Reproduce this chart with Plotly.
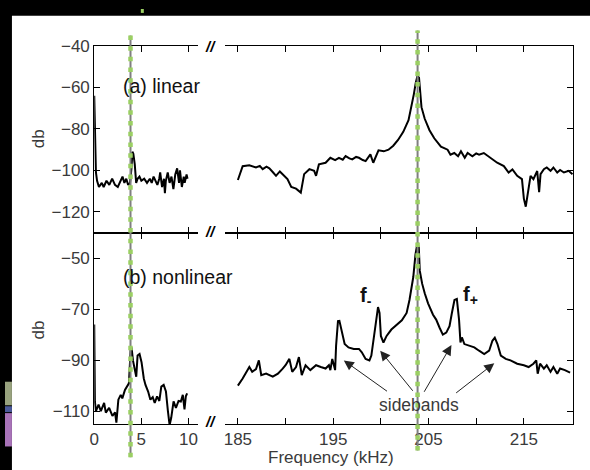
import plotly.graph_objects as go

# ---------------- data ----------------
lin_low_f = [0, 0.05, 0.1, 0.18, 0.3, 0.5, 0.8, 1.0, 1.3, 1.6, 1.9, 2.2, 2.5, 2.7, 3.0,
             3.2, 3.4, 3.6, 3.8, 3.95, 4.05, 4.15, 4.3, 4.45, 4.6, 4.8, 5.0, 5.3, 5.6, 5.9,
             6.1, 6.3, 6.5, 6.7, 6.9, 7.0, 7.2, 7.4, 7.5, 7.6, 7.8, 8.0, 8.2, 8.4, 8.6,
             8.8, 9.0, 9.1, 9.3, 9.5, 9.6, 9.8, 9.9]
lin_low_db = [-64, -80, -92, -101, -105, -108, -106, -108, -105, -107, -104, -107, -108, -106, -103,
              -106, -104, -107, -106, -99, -91, -92, -97, -106, -104, -103, -105, -104, -106, -104,
              -106, -103, -105, -107, -104, -101, -108, -104, -111, -105, -101, -106, -103, -109, -102,
              -99, -106, -100, -108, -103, -106, -102, -104]

lin_high_f = [185.0, 185.5, 186.2, 186.6, 186.9, 187.3, 187.6, 188.0, 188.3, 188.7, 189.0, 189.4,
              189.7, 190.2, 190.6,
              191.1, 191.6, 191.95, 192.5, 193.0, 193.2, 193.5, 194.2, 194.7, 195.2,
              195.6, 196.0, 196.3, 196.7, 197.0, 197.4, 197.7, 198.1, 198.4, 198.9, 199.2, 199.75,
              200.3, 200.8, 201.3, 201.8, 202.35, 202.9, 203.2, 203.46, 203.66, 203.84,
              204.0, 204.12, 204.26, 204.6, 205.1, 205.6, 206.3, 207.0, 207.3, 207.7, 208.1,
              208.4, 208.8, 209.1, 209.6, 210.0, 210.3, 210.8, 211.5, 212.2, 212.9, 213.4,
              213.8, 214.3, 214.8, 215.0, 215.2, 215.4, 215.7, 216.0, 216.4, 216.6,
              216.75, 217.1, 217.4, 217.8, 218.1, 218.5, 218.8, 219.2, 219.7, 220.1]
lin_high_db = [-104.6, -98, -97.5, -98.3, -98.6, -97.8, -99.4, -98.2, -99, -101, -102.6, -100.5,
               -101.8, -104.2, -108,
               -108.8, -110.7, -101.8, -99.4, -100.2, -102.6, -97.1, -96.3, -93.9, -95,
               -93.9, -94.8, -93.1, -94.2, -94.7, -93.5, -93.9, -95, -95.5, -92.3, -96.3, -90.3,
               -90.8, -90.0, -88.1, -85.3, -81.4, -75.8, -69.5, -63.2, -57.7, -54.5,
               -55.3, -63.2, -69.5, -75.1, -80.6, -84.5, -88.5, -90.0, -92.4, -91.6, -93.2,
               -90.8, -93.9, -91.6, -93.2, -91.8, -92.4, -91.6, -93.9, -96.3, -97.9, -101.0,
               -99.5, -102.6, -104.2, -113.6, -117.5, -110.5, -102.6, -104.2, -100.3, -110.5,
               -101.8, -99.4, -98.6, -100.2, -98.6, -101, -99.8, -101, -100.2, -101.8]

non_low_f = [0, 0.07, 0.18, 0.46, 0.7, 1.05, 1.23, 1.58, 1.93, 2.21,
             2.35, 2.56, 2.81, 2.98, 3.26, 3.51, 3.68, 3.86, 3.96, 4.11,
             4.32, 4.46, 4.6, 4.81, 5.02, 5.26, 5.44, 5.72, 5.96, 6.21,
             6.42, 6.67, 6.91, 7.12, 7.37, 7.61, 7.82, 8.0, 8.17, 8.42,
             8.67, 8.95, 9.19, 9.4, 9.58, 9.72, 9.86]
non_low_db = [-76, -106.2, -110, -107.4, -110, -106.8, -110.6, -108.7, -111.9, -110.5,
              -114.5, -105.5, -103.6, -105, -101.7, -100.4, -99.1, -86.3, -85, -90.1,
              -93.3, -96.5, -88.2, -87.6, -90.8, -97.2, -99.7, -102.3, -105.5, -104.5,
              -106.8, -104.2, -106, -100.4, -99.7, -102.3, -110, -115.5, -112.6, -106.2,
              -108.7, -106, -106.2, -103.6, -109.3, -104.2, -103]

non_high_f = [185.0, 185.5, 186.2, 186.5, 186.9, 187.2, 187.45, 187.96, 188.66, 189.2,
              189.7, 190.0, 190.4, 190.7, 191.1, 191.4, 191.7, 192.1, 192.6, 193.2,
              193.7, 194.2, 194.55, 194.7, 194.9, 195.2, 195.3, 195.5, 195.65, 195.9,
              196.2, 196.6, 197.15, 197.7, 198.0, 198.4, 198.8, 199.0, 199.2, 199.5,
              199.7, 199.86, 200.0, 200.27, 200.6, 201.1, 201.66, 202.2, 202.7, 203.0,
              203.4, 203.63, 203.84, 203.98, 204.08, 204.33, 204.6, 204.95, 205.47, 205.8,
              206.16, 206.5, 206.86, 207.2, 207.45, 207.72, 207.97, 208.2, 208.35, 208.5,
              208.76, 209.3, 209.8, 210.3, 210.84, 211.36, 211.7, 211.95, 212.23, 212.58,
              213.1, 213.6, 214.3, 215.0, 215.5, 216.0, 216.3, 216.45, 216.7, 217.1,
              217.4, 217.8, 218.1, 218.5, 218.8, 219.3, 219.85]
non_high_db = [-100, -97.2, -92.7, -94.6, -93.5, -90.1, -95.9, -95.3, -96.5, -95.3,
               -93.3, -92.0, -89.5, -94.6, -92.7, -88.8, -95.9, -92.0, -93.9, -92.0,
               -92.7, -93.3, -92.0, -93.9, -89.5, -93.9, -84.4, -74.7, -74.6, -79.2,
               -83.7, -85.0, -85.6, -85.6, -86.9, -89.5, -90.1, -88.2, -83.1, -74.1,
               -69.2, -71.5, -80.5, -83.1, -80.5, -78.0, -76.0, -74.4, -71.5, -66.4,
               -57.4, -48.5, -44.0, -45.9, -54.9, -60.0, -63.8, -67.7, -72.2, -74.1,
               -77.3, -80.0, -79.2, -76.7, -71.5, -66.4, -66.0, -74.1, -83.1, -81.1,
               -83.7, -84.4, -85.0, -86.3, -87.6, -86.3, -82.4, -81.2, -83.7, -88.2,
               -89.5, -90.1, -91.4, -92.0, -92.7, -91.4, -90.1, -95.3, -91.4, -93.3,
               -92.0, -94.6, -92.7, -95.3, -93.3, -93.9, -94.9]

low_ticks = [0, 5, 10]
high_ticks = [185, 190, 195, 200, 205, 210, 215]
high_ticktext = ["185", "", "195", "", "205", "", "215"]
top_yticks = [-40, -60, -80, -100, -120]
bot_yticks = [-50, -70, -90, -110]

low_marker = 3.85      # green dotted marker, low band (kHz)
high_marker = 203.85   # green dotted marker, drive frequency (kHz)

# sideband arrows: (head f, head db, tail f, tail db)
sideband_arrows = [
    (196.11, -90.1, 200.8, -102.6),
    (199.93, -86.3, 203.47, -102.6),
    (207.4, -84.1, 204.45, -103.0),
    (211.9, -91.2, 207.74, -103.3),
]

for a, b in [(lin_low_f, lin_low_db), (lin_high_f, lin_high_db),
             (non_low_f, non_low_db), (non_high_f, non_high_db)]:
    assert len(a) == len(b)

# ---------------- helpers ----------------
W, H = 590, 470
def PX(x):
    return x / W
def PY(y):
    return 1 - y / H

FONT = "Liberation Sans, Arial, sans-serif"
TXT = "#3a3a3a"

fig = go.Figure()
line = dict(color="black", width=2)
fig.add_trace(go.Scatter(x=lin_low_f, y=lin_low_db, mode="lines", line=line, xaxis="x", yaxis="y"))
fig.add_trace(go.Scatter(x=lin_high_f, y=lin_high_db, mode="lines", line=line, xaxis="x2", yaxis="y2"))
fig.add_trace(go.Scatter(x=non_low_f, y=non_low_db, mode="lines", line=line, xaxis="x3", yaxis="y3"))
fig.add_trace(go.Scatter(x=non_high_f, y=non_high_db, mode="lines", line=line, xaxis="x4", yaxis="y4"))

common = dict(showgrid=False, zeroline=False, showline=True, linecolor="black", linewidth=1,
              ticks="inside", ticklen=6, tickwidth=1, tickcolor="black",
              tickfont=dict(family=FONT, size=17, color=TXT))

XL = [PX(90), PX(195)]
XR = [PX(222), PX(573)]
YT = [PY(228), PY(37.7)]
YB = [PY(423), PY(228)]
low_range = [0, 11.05]
high_range = [183.66, 220.17]

fig.update_layout(
    width=W, height=H, autosize=False, showlegend=False,
    margin=dict(l=0, r=0, t=0, b=0),
    paper_bgcolor="black", plot_bgcolor="rgba(0,0,0,0)",
    xaxis=dict(domain=XL, range=low_range, anchor="y", tickvals=low_ticks,
               showticklabels=False, mirror="ticks", **common),
    xaxis2=dict(domain=XR, range=high_range, anchor="y2", tickvals=high_ticks,
                showticklabels=False, mirror="ticks", **common),
    xaxis3=dict(domain=XL, range=low_range, anchor="y3", tickvals=low_ticks,
                showticklabels=True, mirror="ticks", **common),
    xaxis4=dict(domain=XR, range=high_range, anchor="y4", tickvals=high_ticks,
                ticktext=high_ticktext, showticklabels=True, mirror="ticks", **common),
    yaxis=dict(domain=YT, range=[-130, -40], anchor="x", tickvals=top_yticks, side="left", **common),
    yaxis2=dict(domain=YT, range=[-130, -40], anchor="x2", tickvals=top_yticks, side="right",
                showticklabels=False, **common),
    yaxis3=dict(domain=YB, range=[-115, -40], anchor="x3", tickvals=bot_yticks, side="left", **common),
    yaxis4=dict(domain=YB, range=[-115, -40], anchor="x4", tickvals=bot_yticks, side="right",
                showticklabels=False, **common),
)

shapes = [
    # white sheet
    dict(type="rect", xref="paper", yref="paper", x0=PX(7), x1=1, y0=0, y1=PY(7),
         fillcolor="white", line=dict(width=0), layer="below"),
    # bits of photo on the left edge
    dict(type="rect", xref="paper", yref="paper", x0=0, x1=PX(7), y0=PY(404), y1=PY(380),
         fillcolor="#98a27e", line=dict(width=0), layer="below"),
    dict(type="rect", xref="paper", yref="paper", x0=0, x1=PX(7), y0=PY(411), y1=PY(405),
         fillcolor="#4b5a9a", line=dict(width=0), layer="below"),
    dict(type="rect", xref="paper", yref="paper", x0=0, x1=PX(7), y0=PY(446), y1=PY(412),
         fillcolor="#a873b8", line=dict(width=0), layer="below"),
    dict(type="rect", xref="paper", yref="paper", x0=PX(137), x1=PX(140), y0=PY(4), y1=1,
         fillcolor="#9bcf63", line=dict(width=0), layer="above"),
]
for xr, xv, ytop, ybot in [("x", low_marker, 27, 457), ("x2", high_marker, 22, 450)]:
    shapes.append(dict(type="line", xref=xr, yref="paper", x0=xv, x1=xv, y0=PY(ybot), y1=PY(ytop),
                       line=dict(color="#7f7f7f", width=2)))
    shapes.append(dict(type="line", xref=xr, yref="paper", x0=xv, x1=xv, y0=PY(ybot), y1=PY(ytop),
                       line=dict(color="#9bcf63", width=4.5, dash="4.5px,6.2px")))
fig.update_layout(shapes=shapes)

ann = []
def text(s, x, y, size, color="black", xanchor="center", yanchor="middle", angle=0):
    ann.append(dict(text=s, x=PX(x), y=PY(y), xref="paper", yref="paper", showarrow=False,
                    xanchor=xanchor, yanchor=yanchor, textangle=angle,
                    font=dict(family=FONT, size=size, color=color)))

text("(a) linear", 117, 78, 19.5, "#111", xanchor="left")
text("(b) nonlinear", 117, 273, 19.5, "#111", xanchor="left")
text("<b>f<sub>-</sub></b>", 356, 293, 20, "#111", xanchor="left")
text("<b>f<sub>+</sub></b>", 460, 292, 20, "#111", xanchor="left")
text("sidebands", 418, 404, 17.5, TXT)
text("Frequency (kHz)", 329, 457, 17, TXT)
text("db", 34, 132, 17, TXT, angle=-90)
text("db", 34, 327, 17, TXT, angle=-90)
for yy in [38, 227, 421]:
    text("<b><i>//</i></b>", 207.5, yy, 15, "black")

for hf, hd, tf, td in sideband_arrows:
    ann.append(dict(x=hf, y=hd, xref="x4", yref="y4", ax=tf, ay=td, axref="x4", ayref="y4",
                    text="", showarrow=True, arrowhead=2, arrowsize=2.0, arrowwidth=1,
                    arrowcolor="#222222", standoff=0))
fig.update_layout(annotations=ann)

fig.write_html(
    "out.html",
    config={"displayModeBar": False},
    post_script="document.body.style.margin='0';document.body.style.padding='0';"
                "document.body.style.background='black';",
)
